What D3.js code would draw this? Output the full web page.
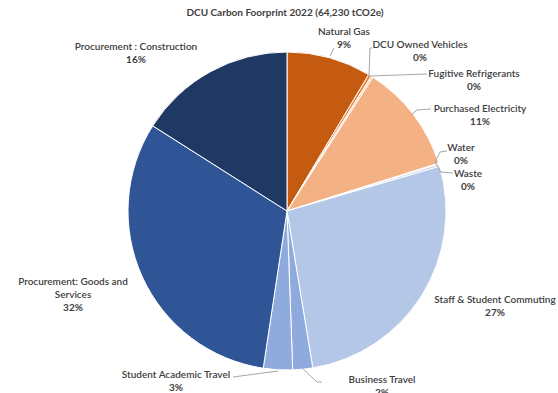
<!DOCTYPE html>
<html><head><meta charset="utf-8">
<script src="https://cdn.jsdelivr.net/npm/d3@7"></script>
<style>
html,body{margin:0;padding:0;background:#fff;}
svg{display:block;font-family:Lato,"Open Sans",sans-serif;}
</style></head>
<body><svg id="c" width="558" height="393"></svg>
<script>
const title = "DCU Carbon Foorprint 2022 (64,230 tCO2e)";
const categories = ["Natural Gas","DCU Owned Vehicles","Fugitive Refrigerants","Purchased Electricity","Water","Waste","Staff & Student Commuting","Business Travel","Student Academic Travel","Procurement: Goods and Services","Procurement : Construction"];
const values = [5520,190,130,7100,60,150,17300,1300,1900,20300,10280];
const colors = ["#C55A11","#ED7D31","#F8CBAD","#F4B183","#DAE3F3","#C9D6EE","#B4C7E7","#8FAADC","#8FAADC","#2F5597","#203864"];

// layout: label lines (wrapped) and label centre; leader elbow points
const labelLayout = {
  "Natural Gas": {x:344, y:31, lines:["Natural Gas"], leader:[[334,48]]},
  "DCU Owned Vehicles": {x:420, y:44, lines:["DCU Owned Vehicles"], leader:[[370,48],[372,48]]},
  "Fugitive Refrigerants": {x:474, y:73, lines:["Fugitive Refrigerants"], leader:[[427,74]]},
  "Purchased Electricity": {x:480, y:108, lines:["Purchased Electricity"], leader:[[417,110],[431,109]]},
  "Water": {x:461, y:147, lines:["Water"], leader:[[440,152],[447,151]]},
  "Waste": {x:468, y:173, lines:["Waste"], leader:[[441,172],[453,173]]},
  "Staff & Student Commuting": {x:495, y:299, lines:["Staff & Student Commuting"], leader:null},
  "Business Travel": {x:382, y:379, lines:["Business Travel"], leader:[[317,382],[322,382]]},
  "Student Academic Travel": {x:176, y:374, lines:["Student Academic Travel"], leader:[[233,377]]},
  "Procurement: Goods and Services": {x:73, y:281, lines:["Procurement: Goods and","Services"], leader:null},
  "Procurement : Construction": {x:136, y:46, lines:["Procurement : Construction"], leader:null}
};
const leaderStart = {
  "Natural Gas":[330,56], "DCU Owned Vehicles":[369,76], "Fugitive Refrigerants":[369,76],
  "Purchased Electricity":[412,114], "Water":[435,162], "Waste":[435,162],
  "Business Travel":[303,369], "Student Academic Travel":[278,371]
};

const svg = d3.select("#c");
const cx = 287, cy = 211, r = 159;
const total = d3.sum(values);
const data = categories.map((c,i)=>({name:c, value:values[i], color:colors[i]}));
const pie = d3.pie().value(d=>d.value).sort(null);
const arc = d3.arc().innerRadius(0).outerRadius(r);
const arcs = pie(data);

svg.append("text").attr("x",285).attr("y",16).attr("text-anchor","middle")
  .attr("font-size",10).attr("font-weight","bold").attr("fill","#404040").text(title);

const g = svg.append("g").attr("transform",`translate(${cx},${cy})`);
g.selectAll("path").data(arcs).join("path")
  .attr("d",arc).attr("fill",d=>d.data.color)
  .attr("stroke","#fff").attr("stroke-width",1);

// leaders
arcs.forEach(a=>{
  const L = labelLayout[a.data.name];
  const s = leaderStart[a.data.name];
  if(!L.leader || !s) return;
  const pts = [s].concat(L.leader);
  svg.append("polyline").attr("points",pts.map(p=>p.join(",")).join(" "))
    .attr("fill","none").attr("stroke","#A6A6A6").attr("stroke-width",1);
});

const fmt = v => Math.round(v/total*100) + "%";
arcs.forEach(a=>{
  const L = labelLayout[a.data.name];
  const t = svg.append("text").attr("text-anchor","middle").attr("font-size",10)
    .attr("fill","#404040").attr("font-weight","600");
  const lines = L.lines.concat([fmt(a.data.value)]);
  lines.forEach((ln,i)=>{
    t.append("tspan").attr("x",L.x).attr("y",L.y+3.5+i*13.3)
      .attr("font-weight", i===lines.length-1 ? "bold" : "600").text(ln);
  });
});
</script></body></html>
